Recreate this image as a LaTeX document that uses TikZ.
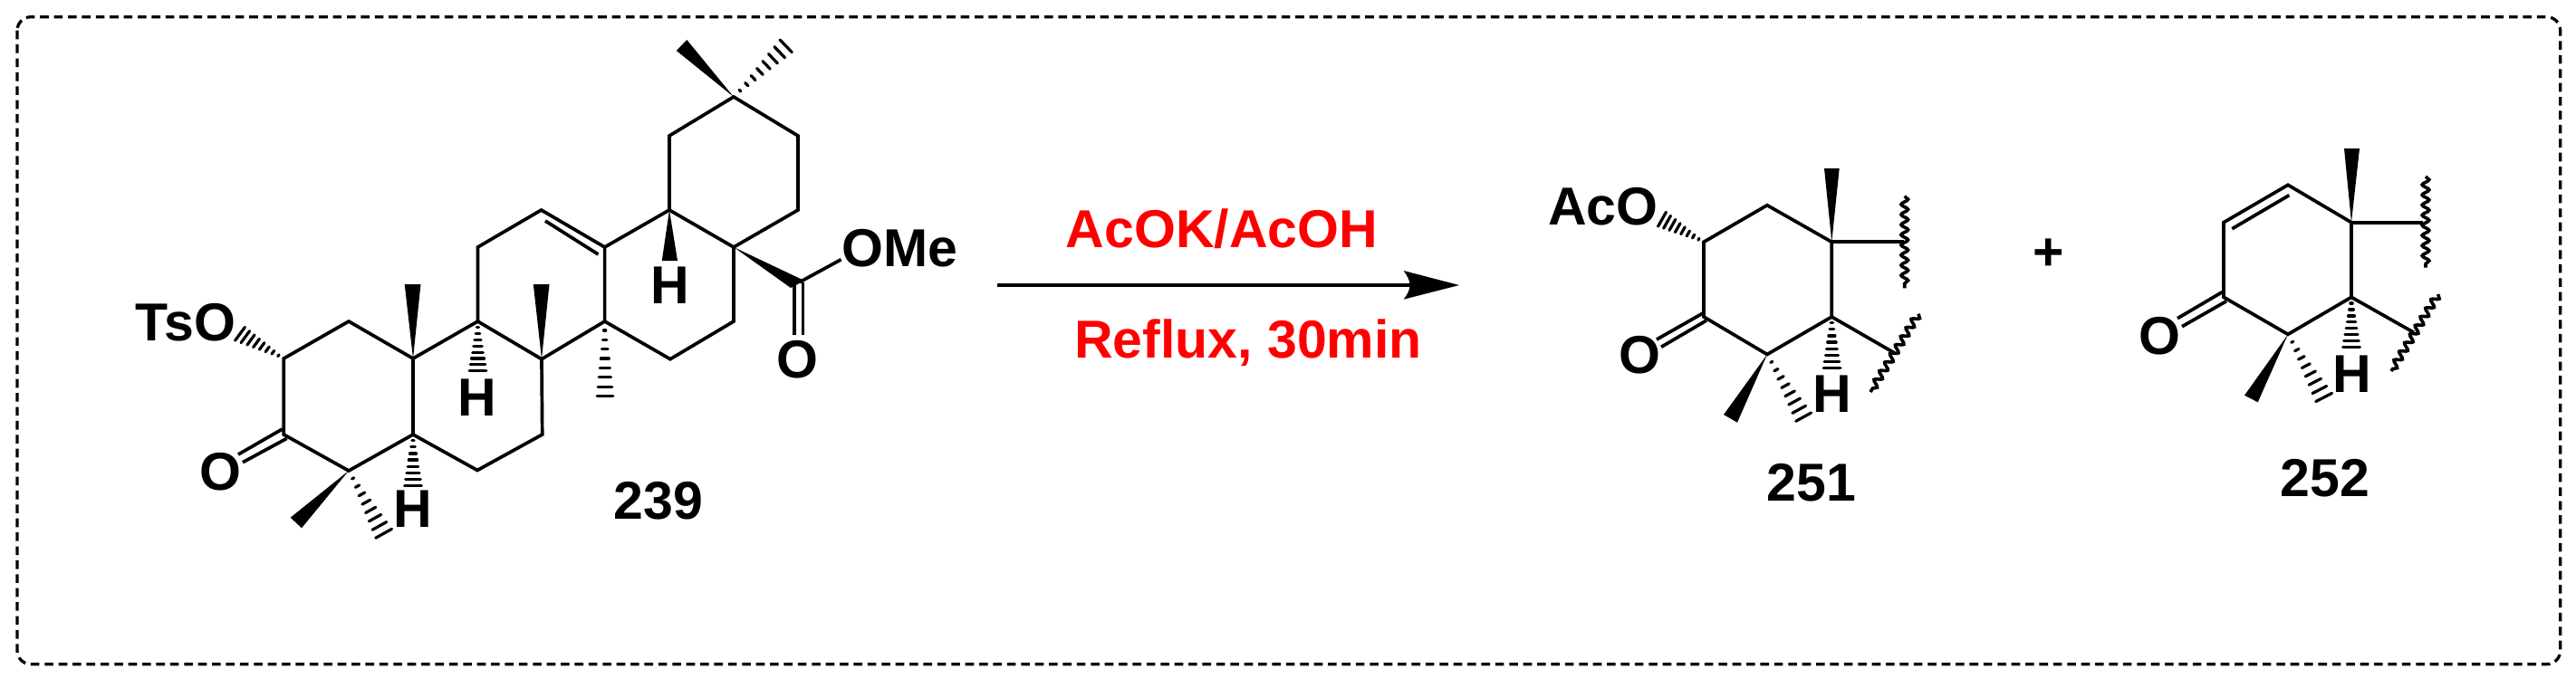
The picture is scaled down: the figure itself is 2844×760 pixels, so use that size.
\documentclass[tikz,border=0pt]{standalone}
\usepackage{fontspec}
\setmainfont{Liberation Sans}
\usetikzlibrary{calc,decorations.pathmorphing}
\definecolor{reagent}{RGB}{255,0,0}
\tikzset{
  bond/.style={draw=black,line width=1.85pt,line join=miter,line cap=butt},
  hashline/.style={draw=black,line width=1.6pt,line cap=round},
  wavy/.style={draw=black,line width=1.8pt,decorate,decoration={snake,amplitude=1.9pt,segment length=5.6pt}},
  frameline/.style={draw=black,line width=1.65pt,dash pattern=on 4.8pt off 2.9pt,rounded corners=7.5pt},
  chem/.style={inner sep=0pt,outer sep=0pt,anchor=base,font=\fontsize{29.5}{32}\selectfont\bfseries},
  reagenttext/.style={chem,text=reagent},
}
\newcommand{\hashb}[3]{\foreach \hpos in {0.12,0.245,0.37,0.495,0.62,0.745,0.87,0.99}{\draw[hashline] ($(#1)!\hpos!(#2)$) -- ($(#1)!\hpos!(#3)$);}}
\newcommand{\wedgeb}[3]{\fill[black] (#1) -- (#2) -- (#3) -- cycle;}
\begin{document}
\begin{tikzpicture}[x=0.5pt,y=-0.5pt]
\useasboundingbox (0,0) rectangle (2844,760);
\draw[frameline] (19,18.7) rectangle (2826.7,733.7);
% --- 239 atoms
\foreach \n/\xx/\yy in {a2/313.3/396,a1/385/355,a10/456/396,a5/456/480,a4/385/520,a3/313.3/480,
 a9/527.5/355,a8/598/396.7,a7/598.7/480,a6/527/519.5,a11/527.5/273,a12/597.6/232,a13/667.6/273,a14/667.6/355,
 a15/740/396.7,a16/810/355,a17/810/273,a18/739/232,a19/739/150,a20/810/107,a21/881/150,a22/881/232,
 est/882.7/311.7,
 w10a/446.7/314,w10b/464.5/314,w8a/588.8/314,w8b/606.5/314,w18a/730.8/288,w18b/748/288,
 w4a/320.7/571.7,w4b/333/583.3,h4a/415/595,h4b/433/585,
 h5a/446.5/536.7,h5b/465.5/536.7,h9a/518/410,h9b/537/410,h14a/659/438,h14b/677/438,
 w20a/758.3/44,w20b/746.8/56,h20a/861.6/43.3,h20b/875/57.3,
 hOa/270/361,hOb/259/376,
 wesa/888/310,wesb/873/318,
 ko1a/311.7/474,ko1b/263/502,ko2a/316.7/484.3,ko2b/268/510.7,
 db1/602/244,db2/660.5/281,
 ed1a/877/314,ed1b/877/370,ed2a/886.5/312,ed2b/886.5/370,eO/928.6/286.7}
  {\coordinate (\n) at (\xx,\yy);}
\draw[bond] (a2)--(a1)--(a10)--(a5)--(a4)--(a3)--cycle;
\draw[bond] (a10)--(a9)--(a8)--(a7)--(a6)--(a5);
\draw[bond] (a9)--(a11)--(a12)--(a13)--(a14)--(a8);
\draw[bond] (a14)--(a15)--(a16)--(a17)--(a18)--(a13);
\draw[bond] (db1)--(db2);
\draw[bond] (a18)--(a19)--(a20)--(a21)--(a22)--(a17);
\draw[bond] (est)--(eO);
\draw[bond] (ko1a)--(ko1b); \draw[bond] (ko2a)--(ko2b);
\draw[bond] (ed1a)--(ed1b); \draw[bond] (ed2a)--(ed2b);
\wedgeb{a10}{w10a}{w10b} \wedgeb{a8}{w8a}{w8b} \wedgeb{a18}{w18a}{w18b}
\wedgeb{a4}{w4a}{w4b} \wedgeb{a20}{w20a}{w20b} \wedgeb{a17}{wesa}{wesb}
\hashb{a4}{h4a}{h4b} \hashb{a5}{h5a}{h5b} \hashb{a9}{h9a}{h9b} \hashb{a14}{h14a}{h14b}
\hashb{a20}{h20a}{h20b} \hashb{a2}{hOa}{hOb}
\node[chem] (tso) at (205,376) {TsO};
\node[chem] (oa) at (243,541) {O};
\node[chem] (h5) at (455.5,582.7) {H};
\node[chem] (h9) at (527,459) {H};
\node[chem] (h18) at (739.5,335.7) {H};
\node[chem] (ome) at (993.5,294.3) {OMe};
\node[chem] (oe) at (880.8,417) {O};
\node[chem] (l239) at (727,573) {239};
% --- reaction arrow
\coordinate (arrS) at (1101.4,315);
\coordinate (arrE) at (1560,315);
\coordinate (tip) at (1611,315);
\draw[line width=2pt,draw=black] (arrS)--(arrE);
\fill[black] (tip) -- (1549.6,330.7) .. controls (1555,323) .. (1556.8,315) .. controls (1555,307) .. (1549.6,299) -- cycle;
\node[reagenttext] (r1) at (1349,273) {AcOK/AcOH};
\node[reagenttext] (r2) at (1378,395) {Reflux, 30min};
% --- 251
\foreach \n/\xx/\yy in {b2/1881/267.3,b1/1951/226.7,b10/2022.3/267.3,b5/2022.3/350,b4/1951/391.5,b3/1881/350,
 bw10a/2014/186,bw10b/2030.7/186,be1/2101.7/267.3,be2/2091.7/390,
 bv1/2102.7/216.7,bv2/2102.7/318.3,bd1/2118/346.7,bd2/2065/433,
 bhOa/1839/234,bhOb/1830/250,bw4a/1903/458,bw4b/1918/466.7,bh4a/1983/466,bh4b/2000/456.7,
 bh5a/2013/406.7,bh5b/2032/406.7,
 bk1a/1880/346,bk1b/1829/375,bk2a/1884/354,bk2b/1834/383.3}
  {\coordinate (\n) at (\xx,\yy);}
\draw[bond] (b2)--(b1)--(b10)--(b5)--(b4)--(b3)--cycle;
\draw[bond] (b10)--(be1); \draw[bond] (b5)--(be2);
\draw[bond] (bk1a)--(bk1b); \draw[bond] (bk2a)--(bk2b);
\draw[wavy] (bv1)--(bv2); \draw[wavy] (bd1)--(bd2);
\wedgeb{b10}{bw10a}{bw10b} \wedgeb{b4}{bw4a}{bw4b}
\hashb{b2}{bhOa}{bhOb} \hashb{b4}{bh4a}{bh4b} \hashb{b5}{bh5a}{bh5b}
\node[chem] (aco) at (1770,248.7) {AcO};
\node[chem] (ob) at (1810,412.7) {O};
\node[chem] (hb) at (2023,455) {H};
\node[chem] (l251) at (2000,553) {251};
% --- plus
\node[chem,anchor=center] (plus) at (2261.7,281) {+};
% --- 252
\foreach \n/\xx/\yy in {c2/2455/245.7,c1/2526/204.3,c10/2596/245.7,c5/2596/328.3,c4/2526/369.3,c3/2455/328.3,
 cw10a/2588/164,cw10b/2605/164,ce1/2675/245.7,ce2/2665/367.3,
 cv1/2678/195,cv2/2678/295.7,cd1/2691.7/325,cd2/2640/410,
 cw4a/2478/436.7,cw4b/2492.7/444.3,ch4a/2557/444.3,ch4b/2575/435,
 ch5a/2586.5/384,ch5b/2605.5/384,
 cdb1/2464.3/252.7,cdb2/2527.3/215.7,
 ck1a/2453.3/322.7,ck1b/2404/351.7,ck2a/2458/332.7,ck2b/2409/360.7}
  {\coordinate (\n) at (\xx,\yy);}
\draw[bond] (c2)--(c1)--(c10)--(c5)--(c4)--(c3)--cycle;
\draw[bond] (cdb1)--(cdb2);
\draw[bond] (c10)--(ce1); \draw[bond] (c5)--(ce2);
\draw[bond] (ck1a)--(ck1b); \draw[bond] (ck2a)--(ck2b);
\draw[wavy] (cv1)--(cv2); \draw[wavy] (cd1)--(cd2);
\wedgeb{c10}{cw10a}{cw10b} \wedgeb{c4}{cw4a}{cw4b}
\hashb{c4}{ch4a}{ch4b} \hashb{c5}{ch5a}{ch5b}
\node[chem] (oc) at (2384,391) {O};
\node[chem] (hc) at (2596.5,433.3) {H};
\node[chem] (l252) at (2567,548) {252};
\end{tikzpicture}
\end{document}
